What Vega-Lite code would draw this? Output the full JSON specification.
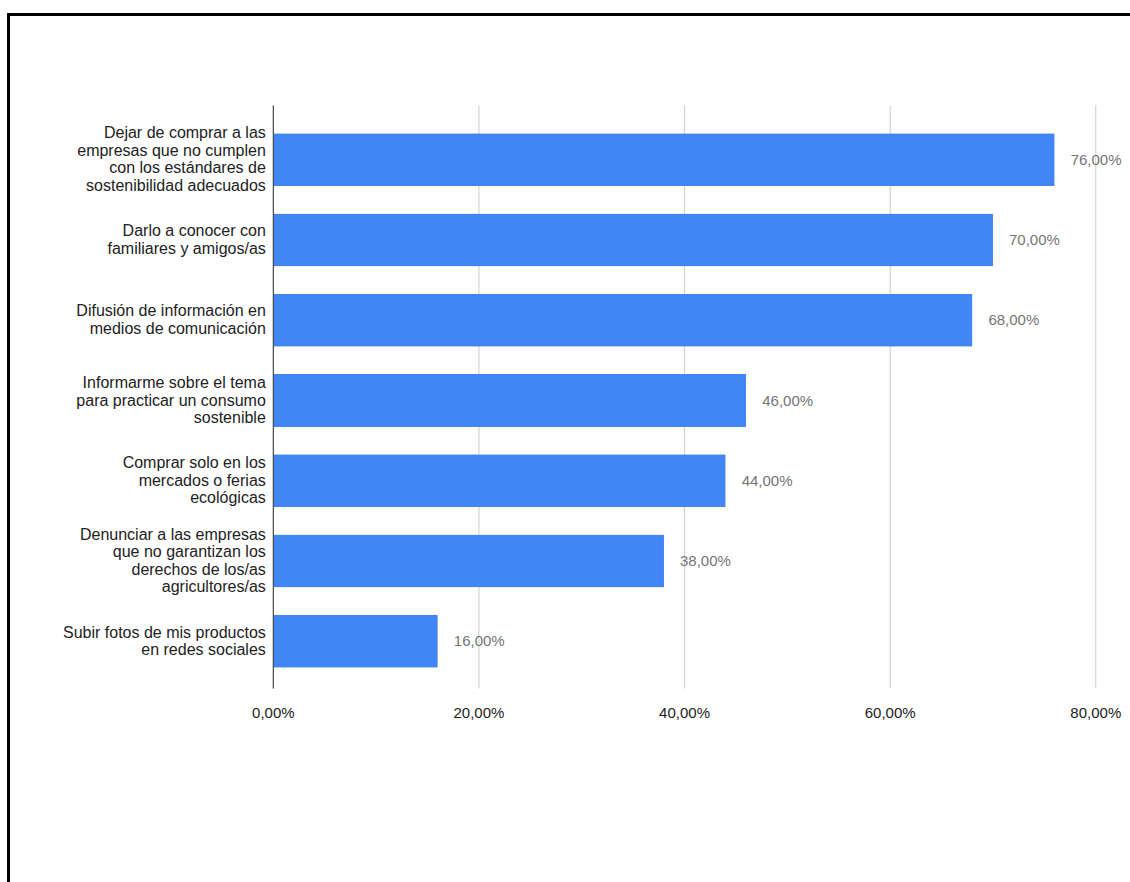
{
  "$schema": "https://vega.github.io/schema/vega-lite/v6.json",
  "width": 1130,
  "height": 900,
  "autosize": {"type": "none"},
  "padding": {"left": 8.5, "top": 14.5, "right": 0, "bottom": 0},
  "background": "#ffffff",
  "config": {
    "view": {"stroke": "#000000", "strokeWidth": 3},
    "locale": {"number": {"decimal": ",", "thousands": ".", "grouping": [3], "currency": ["", " €"]}}
  },
  "datasets": {
    "respuestas": [
      {"accion": "Dejar de comprar a las|empresas que no cumplen|con los estándares de|sostenibilidad adecuados", "valor": 0.76},
      {"accion": "Darlo a conocer con|familiares y amigos/as", "valor": 0.70},
      {"accion": "Difusión de información en|medios de comunicación", "valor": 0.68},
      {"accion": "Informarme sobre el tema|para practicar un consumo|sostenible", "valor": 0.46},
      {"accion": "Comprar solo en los|mercados o ferias|ecológicas", "valor": 0.44},
      {"accion": "Denunciar a las empresas|que no garantizan los|derechos de los/as|agricultores/as", "valor": 0.38},
      {"accion": "Subir fotos de mis productos|en redes sociales", "valor": 0.16}
    ],
    "rejilla": [{"valor": 0}, {"valor": 0.2}, {"valor": 0.4}, {"valor": 0.6}, {"valor": 0.8}],
    "cero": [{"valor": 0}]
  },
  "resolve": {"scale": {"y": "independent"}},
  "layer": [
    {
      "data": {"name": "rejilla"},
      "mark": {"type": "rule", "color": "#cccccc", "strokeWidth": 1},
      "encoding": {
        "x": {
          "field": "valor", "type": "quantitative",
          "scale": {"domain": [0, 0.8], "range": [264.8, 1087.3], "nice": false, "zero": true},
          "axis": null
        },
        "y": {"datum": 0, "type": "quantitative", "scale": {"domain": [0, 1], "range": [674, 91]}, "axis": null},
        "y2": {"datum": 1}
      }
    },
    {
      "data": {"name": "rejilla"},
      "mark": {"type": "text", "align": "center", "baseline": "middle", "dy": 24, "font": "Liberation Sans", "fontSize": 15, "color": "#222222"},
      "encoding": {
        "x": {"field": "valor", "type": "quantitative", "axis": null},
        "y": {"datum": 0, "type": "quantitative", "scale": {"domain": [0, 1], "range": [674, 91]}, "axis": null},
        "text": {"field": "valor", "type": "quantitative", "format": ".2%"}
      }
    },
    {
      "data": {"name": "respuestas"},
      "mark": {"type": "bar", "color": "#4285F4", "cornerRadius": 1},
      "encoding": {
        "y": {
          "field": "accion", "type": "nominal", "sort": null,
          "scale": {"type": "band", "range": [91, 681], "paddingInner": 0.34, "paddingOuter": 0.345},
          "axis": {
            "orient": "left", "offset": -264.8, "title": null, "domain": false, "ticks": false,
            "labelPadding": 8, "labelAlign": "right", "labelBaseline": "middle",
            "labelExpr": "split(datum.label, '|')", "labelLineHeight": 17.5, "labelLimit": 0,
            "labelOffset": {
              "condition": [
                {"test": "length(split(datum.value, '|')) == 4", "value": -26.25},
                {"test": "length(split(datum.value, '|')) == 3", "value": -17.5}
              ],
              "value": -8.75
            },
            "labelFont": "Liberation Sans", "labelFontSize": 16, "labelColor": "#222222"
          }
        },
        "x": {"field": "valor", "type": "quantitative", "axis": null}
      }
    },
    {
      "data": {"name": "respuestas"},
      "mark": {"type": "text", "align": "left", "baseline": "middle", "dx": 16, "font": "Liberation Sans", "fontSize": 15, "color": "#757575"},
      "encoding": {
        "y": {"field": "accion", "type": "nominal", "sort": null, "scale": {"type": "band", "range": [91, 681], "paddingInner": 0.34, "paddingOuter": 0.345}, "axis": null},
        "x": {"field": "valor", "type": "quantitative", "axis": null},
        "text": {"field": "valor", "type": "quantitative", "format": ".2%"}
      }
    },
    {
      "data": {"name": "cero"},
      "mark": {"type": "rule", "color": "#333333", "strokeWidth": 1},
      "encoding": {
        "x": {"field": "valor", "type": "quantitative", "axis": null},
        "y": {"datum": 0, "type": "quantitative", "scale": {"domain": [0, 1], "range": [674, 91]}, "axis": null},
        "y2": {"datum": 1}
      }
    }
  ]
}
